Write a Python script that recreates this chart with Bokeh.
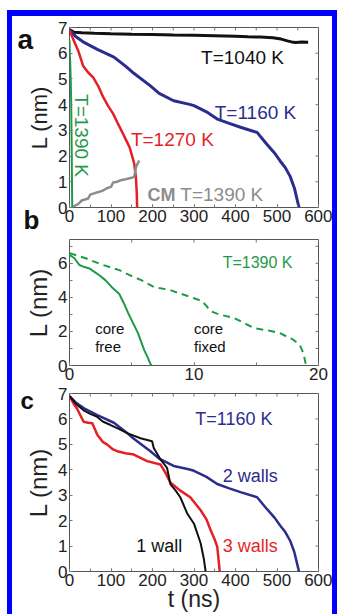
import math
from bokeh.plotting import figure
from bokeh.models import Label, Title, SingleIntervalTicker, Range1d
from bokeh.layouts import column
from bokeh.embed import file_html
from bokeh.resources import INLINE

FONT = "Liberation Sans"
NAVY = "#2b2d8e"
RED = "#e51f27"
GREEN = "#1f9a48"
GRAY = "#8c8c8c"
BLACK = "#111111"
TICK = "#777777"
BLUE = "#0000ff"

# ---------------- axis ticks ----------------
ticks_t_ns = list(range(0, 601, 50))      # panels a and c, x
ticks_L_ac = list(range(0, 8))            # panels a and c, y
ticks_t_b = [0, 5, 10, 15, 20]            # panel b, x
ticks_L_b = [0, 1, 2, 3, 4, 5, 6, 7]      # panel b, y

# ---------------- panel a data (t in ns, L in nm) ----------------
t_1040 = [0, 10, 30, 60, 100, 150, 200, 250, 300, 350, 400, 430, 460, 490, 510, 525, 535, 545, 560, 575]
L_1040 = [6.92, 6.82, 6.80, 6.78, 6.76, 6.74, 6.73, 6.71, 6.70, 6.68, 6.66, 6.64, 6.63, 6.60, 6.55, 6.48, 6.44, 6.42, 6.44, 6.43]

t_1160 = [0, 15, 35, 67, 107, 135, 155, 195, 216, 251, 287, 300, 330, 356, 385, 412, 452, 476, 495, 508, 520, 532, 542, 548, 553]
L_1160 = [6.9, 6.65, 6.42, 6.15, 5.85, 5.5, 5.22, 4.73, 4.44, 4.15, 4.02, 3.96, 3.72, 3.44, 3.27, 3.12, 2.92, 2.45, 2.1, 1.8, 1.55, 1.2, 0.75, 0.34, 0.0]

t_1270 = [0, 10, 21, 33, 45, 57, 70, 81, 93, 105, 117, 129, 137, 145, 151, 156, 160, 162, 163]
L_1270 = [6.9, 6.5, 6.1, 5.5, 5.25, 5.06, 4.7, 4.3, 3.95, 3.65, 3.25, 2.87, 2.6, 2.33, 2.0, 1.7, 1.17, 0.6, 0.0]

t_1390 = [0, 0.4, 0.8, 1.2, 1.6, 2.0, 2.4, 2.9, 3.4, 4.0, 4.4, 4.7, 5.0, 5.5, 6.0, 6.3, 6.5, 6.6]
L_1390 = [6.5, 6.3, 5.9, 5.78, 5.7, 5.5, 5.3, 5.0, 4.6, 4.2, 3.6, 3.1, 2.65, 1.9, 0.9, 0.45, 0.1, 0.0]

t_cm = [8, 14, 20, 25, 29, 35, 45, 50, 57, 70, 81, 90, 100, 105, 115, 121, 135, 152, 156, 160, 164, 168]
L_cm = [0.0, 0.08, 0.12, 0.2, 0.27, 0.3, 0.35, 0.5, 0.54, 0.6, 0.66, 0.75, 0.8, 0.97, 1.0, 1.05, 1.1, 1.17, 1.2, 1.56, 1.7, 1.83]

# ---------------- panel b data (T = 1390 K) ----------------
t_free = t_1390
L_free = L_1390
t_fixed = [0, 1.3, 2.5, 4.0, 5.0, 5.8, 6.8, 8.0, 9.0, 10.0, 10.6, 11.0, 11.3, 12.0, 13.2, 14.0, 14.8, 16.0, 16.9, 18.0, 18.5, 18.8, 19.0]
L_fixed = [6.6, 6.3, 5.95, 5.6, 5.25, 5.0, 4.6, 4.45, 4.2, 3.95, 3.8, 3.5, 3.2, 3.0, 2.8, 2.5, 2.2, 2.05, 1.9, 1.5, 1.2, 0.7, 0.0]

# ---------------- panel c data (T = 1160 K) ----------------
t_1wall = [0, 15, 34, 50, 67, 80, 99, 120, 139, 171, 199, 203, 219, 235, 243, 255, 267, 284, 300, 316, 324, 328]
L_1wall = [6.9, 6.6, 6.34, 6.2, 6.08, 5.9, 5.76, 5.6, 5.44, 5.24, 5.12, 4.86, 4.41, 4.08, 3.44, 3.2, 2.92, 2.27, 1.88, 1.11, 0.47, 0.0]
t_2walls = t_1160
L_2walls = L_1160
t_3walls = [0, 10, 18, 34, 45, 55, 67, 80, 91, 105, 115, 135, 155, 187, 219, 231, 243, 267, 291, 316, 330, 340, 350, 356, 362]
L_3walls = [6.9, 6.6, 6.41, 5.89, 5.85, 5.83, 5.38, 5.1, 4.99, 4.8, 4.73, 4.65, 4.6, 4.34, 4.21, 3.89, 3.5, 3.18, 2.92, 2.41, 2.05, 1.63, 1.25, 0.98, 0.0]

SIDES = f"-5px 0 0 0 {BLUE}, 5px 0 0 0 {BLUE}"
TOP = f", 0 -6px 0 0 {BLUE}, -5px -6px 0 0 {BLUE}, 5px -6px 0 0 {BLUE}"


def make_fig(h, xr, yr, bl, br, bt, bb, xint, yint, yminor, xticks, yticks, ylab_size, xlabel=None, top=False):
    p = figure(width=320, height=h, x_range=Range1d(*xr), y_range=Range1d(*yr),
               output_backend="svg", toolbar_location=None,
               min_border_left=bl, min_border_right=br, min_border_top=bt, min_border_bottom=bb,
               styles={"box-shadow": SIDES + (TOP if top else "")})
    p.grid.visible = False
    p.background_fill_color = "white"
    p.border_fill_color = "white"
    p.outline_line_color = "#555555"
    p.outline_line_width = 1
    p.xaxis.ticker = SingleIntervalTicker(interval=xint, num_minor_ticks=2)
    p.yaxis.ticker = SingleIntervalTicker(interval=yint, num_minor_ticks=yminor)
    for ax in list(p.xaxis) + list(p.yaxis):
        ax.axis_line_color = None
        ax.major_tick_in = 3
        ax.major_tick_out = 0
        ax.minor_tick_in = 3
        ax.minor_tick_out = 0
        ax.major_tick_line_color = TICK
        ax.minor_tick_line_color = TICK
        ax.major_label_text_font = FONT
        ax.major_label_text_font_size = "17px"
        ax.major_label_text_color = "#222222"
        ax.major_label_standoff = 2
        ax.axis_label_text_font = FONT
        ax.axis_label_text_font_style = "normal"
        ax.axis_label_text_color = "#222222"
    p.yaxis.axis_label = "L (nm)"
    p.yaxis.axis_label_text_font_size = ylab_size
    p.yaxis.axis_label_standoff = 3
    if yminor <= 1:
        p.yaxis.minor_tick_line_color = None
    if xlabel:
        p.xaxis.axis_label = xlabel
        p.xaxis.axis_label_text_font_size = "23px"
        p.xaxis.axis_label_standoff = -3
    # inward ticks on the top and right edges of the box (half of each dash is clipped by the frame)
    p.scatter(xticks, [yr[1]] * len(xticks), marker="dash", angle=math.pi / 2, size=6,
              line_color=TICK, line_width=1)
    p.scatter([xr[1]] * len(yticks), yticks, marker="dash", size=6, line_color=TICK, line_width=1)
    return p


def lab(p, x, y, text, color, size, align="left", baseline="middle", style="normal", angle=0.0):
    p.add_layout(Label(x=x, y=y, text=text, text_color=color, text_font=FONT,
                       text_font_size=size, text_align=align, text_baseline=baseline,
                       text_font_style=style, angle=angle))


def letter(p, text, side, offset, standoff, valign, size):
    p.add_layout(Title(text=text, align="left", offset=offset, standoff=standoff,
                       vertical_align=valign, text_font=FONT, text_font_size=size,
                       text_font_style="bold", text_color="#111111"), side)


# ---------------- panel a ----------------
pa = make_fig(220, (0, 600), (0, 7), 54, 14, 11, 29, 100, 1, 0, ticks_t_ns, ticks_L_ac, "22px", top=True)
pa.line(t_1040, L_1040, line_color=BLACK, line_width=3)
pa.line(t_1160, L_1160, line_color=NAVY, line_width=3)
pa.line(t_1270, L_1270, line_color=RED, line_width=2.5)
pa.line(t_cm, L_cm, line_color=GRAY, line_width=2.5)
pa.line(t_1390, L_1390, line_color=GREEN, line_width=2)
lab(pa, 317, 5.84, "T=1040 K", BLACK, "19px")
lab(pa, 350, 3.7, "T=1160 K", NAVY, "19px")
lab(pa, 148, 2.63, "T=1270 K", RED, "19px")
lab(pa, 28.6, 2.8, "T=1390 K", GREEN, "19px", align="center", angle=-math.pi / 2)
lab(pa, 188, 0.5, "CM", GRAY, "18px", style="bold")
lab(pa, 267, 0.5, "T=1390 K", GRAY, "19px")
letter(pa, "a", "above", -52, -54, "bottom", "28px")
letter(pa, "b", "below", -46, -39, "top", "26px")

# ---------------- panel b ----------------
pb = make_fig(147, (0, 20), (0, 7.4), 55, 13, 3, 18, 10, 2, 2, ticks_t_b, ticks_L_b, "24px")
pb.line(t_free, L_free, line_color=GREEN, line_width=2)
pb.line(t_fixed, L_fixed, line_color=GREEN, line_width=2, line_dash="7 5")
lab(pb, 12.3, 6.06, "T=1390 K", GREEN, "16px")
lab(pb, 2.06, 2.18, "core", BLACK, "15px")
lab(pb, 2.06, 1.13, "free", BLACK, "15px")
lab(pb, 10.0, 2.18, "core", BLACK, "15px")
lab(pb, 10.0, 1.13, "fixed", BLACK, "15px")

# ---------------- panel c ----------------
pc = make_fig(231, (0, 600), (0, 7), 57, 14, 10, 42, 100, 1, 0, ticks_t_ns, ticks_L_ac, "24px", xlabel="t (ns)")
pc.line(t_2walls, L_2walls, line_color=NAVY, line_width=2.5)
pc.line(t_3walls, L_3walls, line_color=RED, line_width=2.5)
pc.line(t_1wall, L_1wall, line_color=BLACK, line_width=2)
lab(pc, 303, 6.0, "T=1160 K", NAVY, "18px")
lab(pc, 369, 3.76, "2 walls", NAVY, "18px")
lab(pc, 161, 1.02, "1 wall", BLACK, "18px")
lab(pc, 369, 1.02, "3 walls", RED, "18px")
letter(pc, "c", "above", -49, -40, "bottom", "24px")

layout = column(pa, pb, pc, spacing=0,
                styles={"position": "relative", "left": "12px", "top": "16px",
                        "box-shadow": SIDES + TOP})

open("out.html", "w").write(file_html(layout, INLINE))
